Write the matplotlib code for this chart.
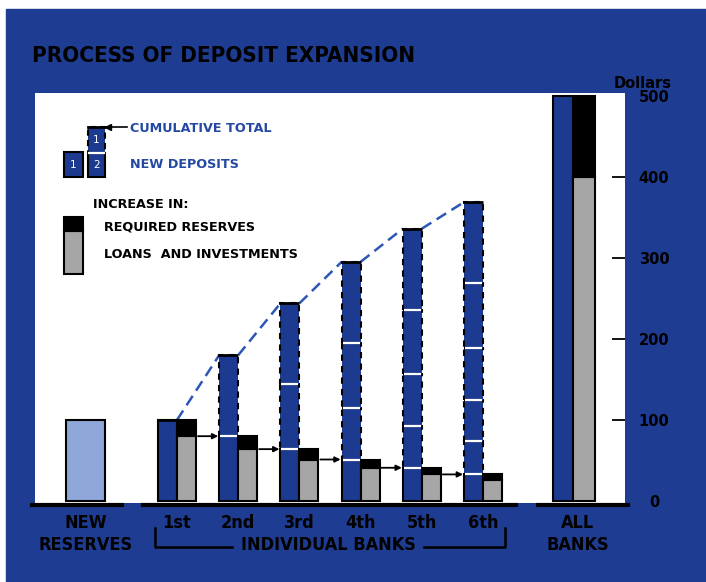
import matplotlib
matplotlib.use("Agg")
import matplotlib.pyplot as plt
from matplotlib.patches import Rectangle
from matplotlib.lines import Line2D

# data (dollars)
new_reserves = 100
banks = ['1st', '2nd', '3rd', '4th', '5th', '6th']
new_deposits = [100, 80, 64, 51.2, 41, 32.8]
required_reserves = [20, 16, 12.8, 10.2, 8.2, 6.6]
loans_investments = [80, 64, 51.2, 41, 32.8, 26.2]
all_deposits = 500
all_reserves = 100
all_loans = 400
yticks = [0, 100, 200, 300, 400, 500]

W, H = 706, 582
BG = '#1e3d92'
BAR = '#1c3b90'
LIGHT = '#8fa6d8'
GRAY = '#a6a6a6'
TXTBLUE = '#2449a3'
NARROW = dict(family='DejaVu Sans', stretch='condensed')


def px(x, y):
    return x / W, 1 - y / H


fig = plt.figure(figsize=(W / 100, H / 100), dpi=100, facecolor='white')
fig.patches.append(Rectangle((6 / W, 0), 1, 1 - 9 / H, transform=fig.transFigure,
                             color=BG, zorder=-10))

ax = fig.add_axes([35 / W, 1 - 503 / H, 590 / W, 410 / H])
ax.set_facecolor('white')
ax.set_xlim(0, 590)
ax.set_ylim(-2.5, 503.7)
for s in ax.spines.values():
    s.set_visible(False)
ax.set_xticks([])

# new reserves
ax.bar(31, new_reserves, 39, align='edge', color=LIGHT, edgecolor='black', lw=1.5)

# individual banks
bw = 19
lefts = [123 + 61.2 * i for i in range(len(banks))]
tops = []
for i, x in enumerate(lefts):
    # own new deposits at the bottom, earlier banks' deposits stacked above
    ax.bar(x, new_deposits[i], bw, align='edge', color=BAR, edgecolor='black', lw=1.5, zorder=2)
    bottom = new_deposits[i]
    bounds = [bottom]
    for j in range(i - 1, -1, -1):
        ax.bar(x, new_deposits[j], bw, bottom=bottom, align='edge', color=BAR,
               edgecolor='black', lw=1.5, linestyle=(0, (3, 2.5)), zorder=2)
        bottom += new_deposits[j]
        bounds.append(bottom)
    tops.append(bottom)
    if i > 0:
        ax.hlines(bounds[:-1], x + 1, x + bw - 1, color='white', lw=1.6, zorder=3)
    ax.hlines(bottom, x, x + bw, color='black', lw=2, zorder=3)
    # reserves and loans
    rx = x + bw
    ax.bar(rx, loans_investments[i], bw, align='edge', color=GRAY, edgecolor='black', lw=1.5, zorder=2)
    ax.bar(rx, required_reserves[i], bw, bottom=loans_investments[i], align='edge',
           color='black', edgecolor='black', lw=1.5, zorder=2)

for i in range(len(banks) - 1):
    ax.plot([lefts[i] + bw, lefts[i + 1]], [tops[i], tops[i + 1]], color='#2c57b5',
            lw=1.8, linestyle=(0, (4.5, 2.5)), zorder=1)
    ax.annotate('', xy=(lefts[i + 1] - 1, loans_investments[i]),
                xytext=(lefts[i] + 2 * bw + 2, loans_investments[i]),
                arrowprops=dict(arrowstyle='-|>', color='black', lw=1.3, mutation_scale=8,
                                shrinkA=0, shrinkB=0), zorder=3)

# all banks
ax.bar(518, all_deposits, 20, align='edge', color=BAR, edgecolor='black', lw=1.5, zorder=2)
ax.bar(538, all_loans, 22, align='edge', color=GRAY, edgecolor='black', lw=1.5, zorder=2)
ax.bar(538, all_reserves, 22, bottom=all_loans, align='edge', color='black',
       edgecolor='black', lw=1.5, zorder=2)

# right axis
ax.yaxis.tick_right()
ax.set_yticks(yticks)
ax.set_yticklabels([str(v) for v in yticks], ha='center', fontsize=10.5, fontweight='bold')
ax.tick_params(axis='y', direction='in', length=9.5, width=1.3, pad=21, colors='black')
ticks = ax.yaxis.get_major_ticks()
for t in (ticks[0], ticks[-1]):
    t.tick2line.set_visible(False)
fig.text(*px(643, 84), 'Dollars', ha='center', va='center', fontsize=10.5, fontweight='bold')

# title
fig.text(*px(32, 56), 'PROCESS OF DEPOSIT EXPANSION', ha='left', va='center',
         fontsize=16, fontweight='bold', color='black', **NARROW)

# base lines under the groups
for x0, x1 in [(32, 122), (143, 516), (538, 628)]:
    fig.add_artist(Line2D([x0 / W, x1 / W], [1 - 505 / H] * 2, transform=fig.transFigure,
                          color='black', lw=3))

# bottom labels
lab = dict(ha='center', va='center', fontsize=13, fontweight='bold', color='black', **NARROW)
fig.text(*px(86, 523), 'NEW', **lab)
fig.text(*px(86, 545), 'RESERVES', **lab)
for i, b in enumerate(banks):
    fig.text(*px(lefts[i] + 35 + bw, 523), b, **lab)
fig.text(*px(578, 523), 'ALL', **lab)
fig.text(*px(578, 545), 'BANKS', **lab)
fig.text(*px(328, 545), 'INDIVIDUAL BANKS', **lab)
for xs, ys in [([155, 155, 232], [528, 547, 547]), ([424, 505, 505], [547, 547, 528])]:
    fig.add_artist(Line2D([x / W for x in xs], [1 - y / H for y in ys],
                          transform=fig.transFigure, color='black', lw=1.8))

# legend
def box(x0, y0, x1, y1, fc, ls='-', lw=1.5):
    fig.patches.append(Rectangle(px(x0, y1), (x1 - x0) / W, (y1 - y0) / H,
                                 transform=fig.transFigure, facecolor=fc, edgecolor='black',
                                 lw=lw, linestyle=ls, zorder=5))

box(64, 152, 83, 177, BAR)
box(88, 153, 105, 177, BAR)
box(88, 127, 105, 153, BAR, ls=(0, (3, 2)))
fig.add_artist(Line2D([89 / W, 104 / W], [1 - 153 / H] * 2, transform=fig.transFigure,
                      color='white', lw=1.6, zorder=6))
fig.add_artist(Line2D([88 / W, 105 / W], [1 - 127 / H] * 2, transform=fig.transFigure,
                      color='black', lw=2, zorder=6))
num = dict(ha='center', va='center', color='white', fontsize=7.5, zorder=7)
fig.text(*px(73.5, 165), '1', **num)
fig.text(*px(96.5, 165), '2', **num)
fig.text(*px(96.5, 140), '1', **num)
fig.add_artist(Line2D([108 / W, 127 / W], [1 - 127 / H] * 2, transform=fig.transFigure,
                      color='black', lw=1.2, zorder=6))
fig.add_artist(Line2D([108 / W], [1 - 127 / H], transform=fig.transFigure, marker='<',
                      markersize=4, color='black', zorder=6))
leg = dict(ha='left', va='center', fontsize=9.2, fontweight='bold')
fig.text(*px(130, 128), 'CUMULATIVE TOTAL', color=TXTBLUE, **leg)
fig.text(*px(130, 164), 'NEW DEPOSITS', color=TXTBLUE, **leg)
fig.text(*px(93, 204), 'INCREASE IN:', color='black', **leg)
box(64, 231, 83, 274, GRAY)
box(64, 217, 83, 231, 'black')
fig.text(*px(104, 227), 'REQUIRED RESERVES', color='black', **leg)
fig.text(*px(104, 254), 'LOANS  AND INVESTMENTS', color='black', **leg)

fig.savefig('out.png', dpi=100, facecolor=fig.get_facecolor())
